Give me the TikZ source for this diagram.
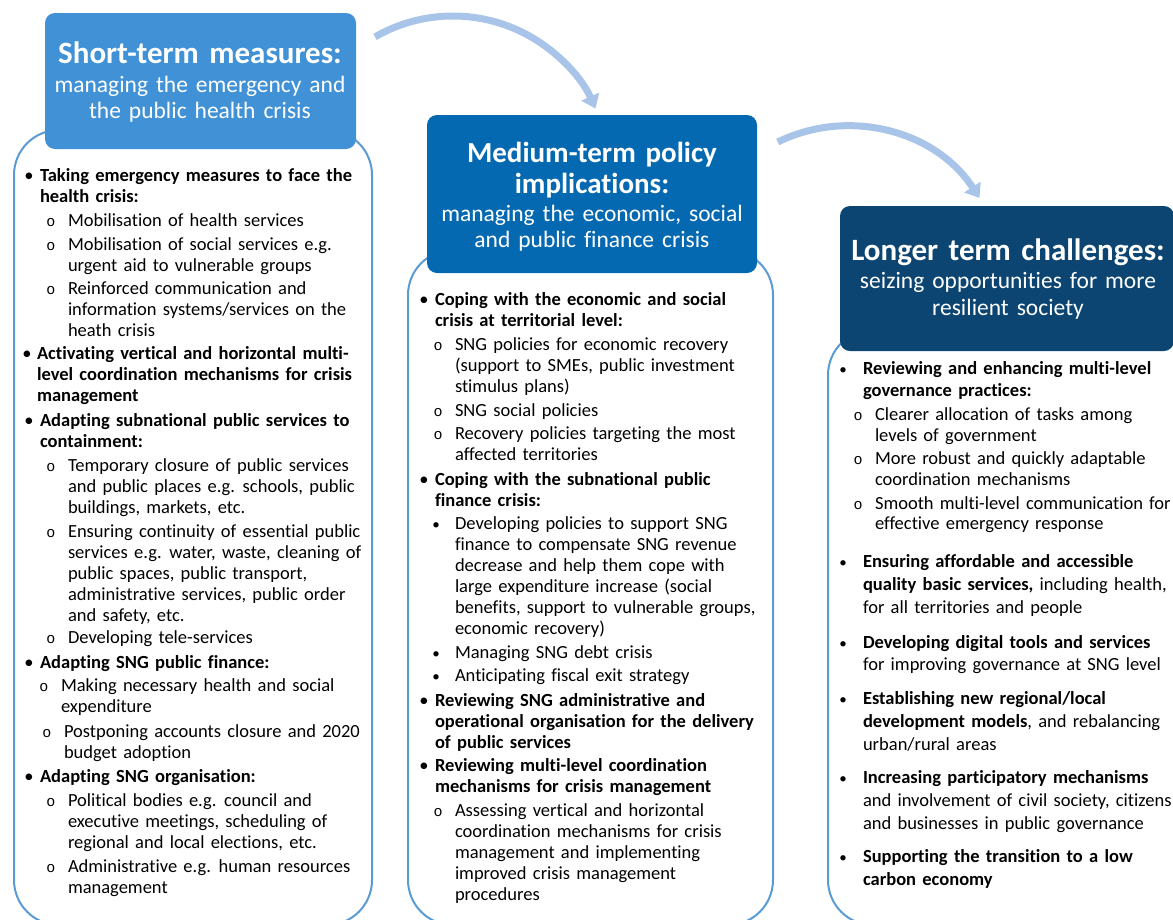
\documentclass[tikz,border=0pt]{standalone}
\usepackage{fontspec}
\setmainfont{Carlito}[WordSpace=1.5, RawFeature={-liga;-clig;-rlig;-dlig;-calt}]
\newfontfamily\monof{Liberation Mono}
\usetikzlibrary{arrows.meta}
\definecolor{hA}{RGB}{64,145,214}
\definecolor{hB}{RGB}{5,105,178}
\definecolor{hC}{RGB}{12,69,113}
\definecolor{panelline}{RGB}{91,155,213}
\definecolor{flowcol}{RGB}{168,197,233}
\newcommand\mlines[2][21pt]{\vtop{\baselineskip=#1\relax\lineskiplimit=-50pt\lineskip=0pt\tabskip=0pt\halign{##\hfil\cr#2\crcr}}}
\tikzset{
  panel/.style={draw=panelline, line width=2pt, rounded corners=45pt, inner sep=0, fill=none},
  headbox/.style={rounded corners=10pt, inner sep=0, draw=none},
  htitle/.style={anchor=base, inner sep=0, text=white, font=\fontsize{31}{32}\selectfont\bfseries},
  hsub/.style={anchor=base, inner sep=0, text=white, font=\fontsize{23.5}{26}\selectfont},
  txt/.style={anchor=base west, inner sep=0, outer sep=0, text=black, font=\fontsize{18.5}{21}\selectfont},
  btxt/.style={txt, font=\fontsize{18.5}{21}\selectfont\bfseries},
  bul/.style={anchor=base, inner sep=0, font=\fontsize{18.5}{21}\selectfont},
  sbul/.style={anchor=base, inner sep=0, font=\fontsize{15}{18}\selectfont},
  sub/.style={anchor=base, inner sep=0, font=\monof\fontsize{15}{18}\selectfont},
  flow/.style={draw=flowcol, line width=7pt, -{Triangle[width=19pt,length=13pt]}},
}
\begin{document}
\begin{tikzpicture}[x=1pt,y=1pt]
\useasboundingbox (0,0) rectangle (1173,-919);
\clip (0,0) rectangle (1173,-919);

% panels
\node[panel, minimum width=358pt, minimum height=795pt] (p1) at (193,-527.5) {};
\node[panel, minimum width=365pt, minimum height=675pt] (p2) at (590.5,-587.5) {};
\node[panel, minimum width=372pt, minimum height=595pt] (p3) at (1014,-627.5) {};

% headers
\node[headbox, fill=hA, minimum width=311pt, minimum height=136pt] (h1) at (200.5,-81) {};
\node[headbox, fill=hB, minimum width=330pt, minimum height=158pt] (h2) at (592,-194) {};
\node[headbox, fill=hC, minimum width=334pt, minimum height=145pt] (h3) at (1007,-278.5) {};

\node[htitle] (h1t) at (200,-63) {Short-term measures:};
\node[hsub] (h1s1) at (200,-92) {managing the emergency and};
\node[hsub] (h1s2) at (200,-118) {the public health crisis};

\node[htitle, font=\fontsize{29}{32}\selectfont\bfseries] (h2t1) at (592,-162) {Medium-term policy};
\node[htitle, font=\fontsize{29}{32}\selectfont\bfseries] (h2t2) at (592,-193) {implications:};
\node[hsub] (h2s1) at (592,-221) {managing the economic, social};
\node[hsub] (h2s2) at (592,-247) {and public finance crisis};

\node[htitle] (h3t) at (1008,-260) {Longer term challenges:};
\node[hsub] (h3s1) at (1008,-288) {seizing opportunities for more};
\node[hsub] (h3s2) at (1008,-315) {resilient society};

% arrows
\coordinate (a1s) at (375,-36.9);
\coordinate (a2s) at (777.7,-142);
\draw[flow] (a1s) arc[start angle=120, end angle=24, radius=156];
\draw[flow] (a2s) arc[start angle=116, end angle=33, radius=158];

% column 1
\node[bul] (k1) at (29,-181) {•};
\node[btxt] (t1) at (40,-181) {\mlines{Taking emergency measures to face the\cr health crisis:}};
\node[sub] (o1) at (51,-226) {o};
\node[txt] (t2) at (68,-226) {\mlines{Mobilisation of health services}};
\node[sub] (o2) at (51,-250) {o};
\node[txt] (t3) at (68,-250) {\mlines{Mobilisation of social services e.g.\cr urgent aid to vulnerable groups}};
\node[sub] (o3) at (51,-294) {o};
\node[txt] (t4) at (68,-294) {\mlines{Reinforced communication and\cr information systems/services on the\cr heath crisis}};
\node[bul] (k2) at (27,-359) {•};
\node[btxt] (t5) at (37,-359) {\mlines{Activating vertical and horizontal multi-\cr level coordination mechanisms for crisis\cr management}};
\node[bul] (k3) at (29,-426) {•};
\node[btxt] (t6) at (40,-426) {\mlines{Adapting subnational public services to\cr containment:}};
\node[sub] (o4) at (51,-471) {o};
\node[txt] (t7) at (68,-471) {\mlines{Temporary closure of public services\cr and public places e.g. schools, public\cr buildings, markets, etc.}};
\node[sub] (o5) at (51,-537) {o};
\node[txt] (t8) at (68,-537) {\mlines{Ensuring continuity of essential public\cr services e.g. water, waste, cleaning of\cr public spaces, public transport,\cr administrative services, public order\cr and safety, etc.}};
\node[sub] (o6) at (51,-643) {o};
\node[txt] (t9) at (68,-643) {\mlines{Developing tele-services}};
\node[bul] (k4) at (29,-668) {•};
\node[btxt] (t10) at (40,-668) {\mlines{Adapting SNG public finance:}};
\node[sub] (o7) at (44,-691) {o};
\node[txt] (t11) at (61,-691) {\mlines{Making necessary health and social\cr expenditure}};
\node[sub] (o8) at (47,-737) {o};
\node[txt] (t12) at (64,-737) {\mlines{Postponing accounts closure and 2020\cr budget adoption}};
\node[bul] (k5) at (29,-782) {•};
\node[btxt] (t13) at (40,-782) {\mlines{Adapting SNG organisation:}};
\node[sub] (o9) at (51,-806) {o};
\node[txt] (t14) at (68,-806) {\mlines{Political bodies e.g. council and\cr executive meetings, scheduling of\cr regional and local elections, etc.}};
\node[sub] (o10) at (51,-872) {o};
\node[txt] (t15) at (68,-872) {\mlines{Administrative e.g. human resources\cr management}};

% column 2
\node[bul] (m1) at (424,-305) {•};
\node[btxt] (u1) at (435,-305) {\mlines{Coping with the economic and social\cr crisis at territorial level:}};
\node[sub] (q1) at (438,-350) {o};
\node[txt] (u2) at (455,-350) {\mlines{SNG policies for economic recovery\cr (support to SMEs, public investment\cr stimulus plans)}};
\node[sub] (q2) at (438,-416) {o};
\node[txt] (u3) at (455,-416) {\mlines{SNG social policies}};
\node[sub] (q3) at (438,-439) {o};
\node[txt] (u4) at (455,-439) {\mlines{Recovery policies targeting the most\cr affected territories}};
\node[bul] (m2) at (424,-485) {•};
\node[btxt] (u5) at (435,-485) {\mlines{Coping with the subnational public\cr finance crisis:}};
\node[sbul] (q4) at (436,-529) {•};
\node[txt] (u6) at (455,-529) {\mlines{Developing policies to support SNG\cr finance to compensate SNG revenue\cr decrease and help them cope with\cr large expenditure increase (social\cr benefits, support to vulnerable groups,\cr economic recovery)}};
\node[sbul] (q5) at (436,-658) {•};
\node[txt] (u7) at (455,-658) {\mlines{Managing SNG debt crisis}};
\node[sbul] (q6) at (436,-681) {•};
\node[txt] (u8) at (455,-681) {\mlines{Anticipating fiscal exit strategy}};
\node[bul] (m3) at (424,-706) {•};
\node[btxt] (u9) at (435,-706) {\mlines{Reviewing SNG administrative and\cr operational organisation for the delivery\cr of public services}};
\node[bul] (m4) at (424,-771) {•};
\node[btxt] (u10) at (435,-771) {\mlines{Reviewing multi-level coordination\cr mechanisms for crisis management}};
\node[sub] (q7) at (438,-816) {o};
\node[txt] (u11) at (455,-816) {\mlines{Assessing vertical and horizontal\cr coordination mechanisms for crisis\cr management and implementing\cr improved crisis management\cr procedures}};

% column 3
\node[sbul] (n1) at (843,-374) {•};
\node[btxt] (v1) at (863,-374) {\mlines[22pt]{Reviewing and enhancing multi-level\cr governance practices:}};
\node[sub] (r1) at (858,-420) {o};
\node[txt] (v2) at (875,-420) {\mlines{Clearer allocation of tasks among\cr levels of government}};
\node[sub] (r2) at (858,-464) {o};
\node[txt] (v3) at (875,-464) {\mlines{More robust and quickly adaptable\cr coordination mechanisms}};
\node[sub] (r3) at (858,-509) {o};
\node[txt] (v4) at (875,-509) {\mlines[20pt]{Smooth multi-level communication for\cr effective emergency response}};
\node[sbul] (n2) at (843,-567) {•};
\node[txt] (v5) at (863,-567) {\mlines[23pt]{\textbf{Ensuring affordable and accessible}\cr \textbf{quality basic services,} including health,\cr for all territories and people}};
\node[sbul] (n3) at (843,-648) {•};
\node[txt] (v6) at (863,-648) {\mlines[22pt]{\textbf{Developing digital tools and services}\cr for improving governance at SNG level}};
\node[sbul] (n4) at (843,-704) {•};
\node[txt] (v7) at (863,-704) {\mlines[23pt]{\textbf{Establishing new regional/local}\cr \textbf{development models}, and rebalancing\cr urban/rural areas}};
\node[sbul] (n5) at (843,-783) {•};
\node[txt] (v8) at (863,-783) {\mlines[23pt]{\textbf{Increasing participatory mechanisms}\cr and involvement of civil society, citizens\cr and businesses in public governance}};
\node[sbul] (n6) at (843,-862) {•};
\node[btxt] (v9) at (863,-862) {\mlines[23pt]{Supporting the transition to a low\cr carbon economy}};
\end{tikzpicture}
\end{document}
